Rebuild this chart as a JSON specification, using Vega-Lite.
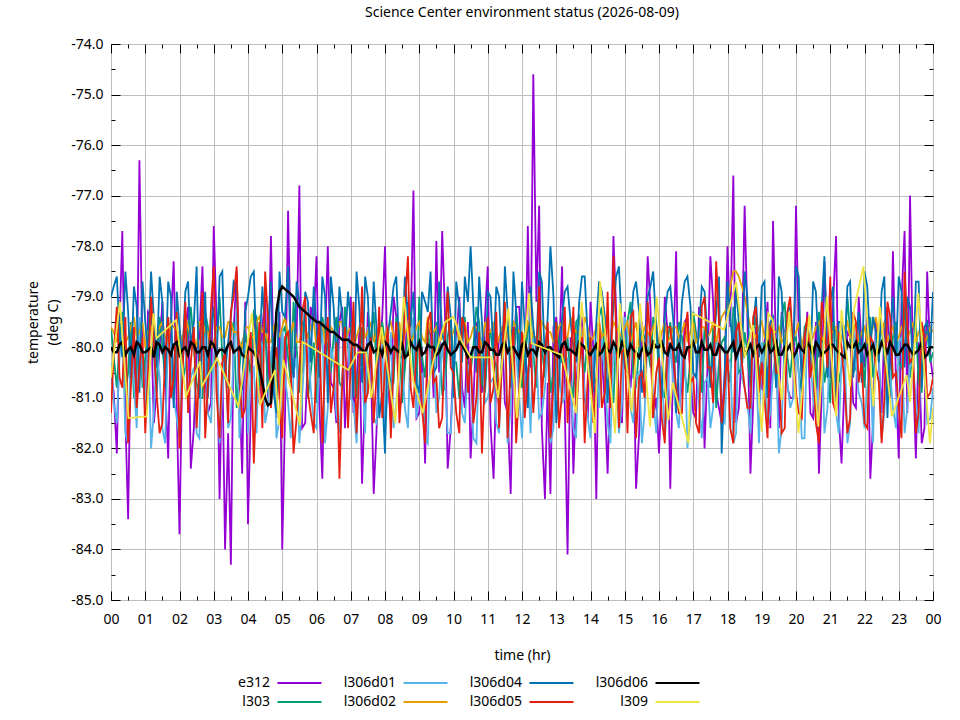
{
  "$schema": "https://vega.github.io/schema/vega-lite/v6.json",
  "autosize": {"type": "none"},
  "width": 822,
  "height": 556,
  "padding": {"left": 111, "top": 44, "right": 27, "bottom": 120},
  "background": "white",
  "title": {
    "text": "Science Center environment status (2026-08-09)",
    "fontSize": 14,
    "fontWeight": "normal",
    "anchor": "middle",
    "offset": 17,
    "color": "black"
  },
  "data": {
    "values": [
      {"t":0,"e312":-80.5,"l303":-79.6,"l306d01":-80.3,"l306d02":-79.6,"l306d04":-79.0,"l306d05":-81.3,"l306d06":-80.0},
      {"t":0.17,"e312":-82.1,"l303":-80.8,"l306d01":-81.5,"l306d02":-79.9,"l306d04":-78.6,"l306d05":-79.2,"l306d06":-80.1},
      {"t":0.33,"e312":-77.7,"l303":-79.3,"l306d01":-79.6,"l306d02":-79.5,"l306d04":-80.2,"l306d05":-80.8,"l306d06":-79.9},
      {"t":0.5,"e312":-83.4,"l303":-80.5,"l306d01":-81.9,"l306d02":-79.8,"l306d04":-79.3,"l306d05":-81.9,"l306d06":-80.05},
      {"t":0.67,"e312":-80.2,"l303":-81.0,"l306d01":-80.7,"l306d02":-79.4,"l306d04":-78.8,"l306d05":-79.6,"l306d06":-80.15},
      {"t":0.83,"e312":-76.3,"l303":-79.5,"l306d01":-79.4,"l306d02":-79.7,"l306d04":-80.9,"l306d05":-80.4,"l306d06":-79.95},
      {"t":1,"e312":-81.2,"l303":-80.2,"l306d01":-81.2,"l306d02":-80.0,"l306d04":-79.5,"l306d05":-81.7,"l306d06":-80.1},
      {"t":1.17,"e312":-79.4,"l303":-79.1,"l306d01":-82.0,"l306d02":-79.6,"l306d04":-78.5,"l306d05":-79.0,"l306d06":-80.0},
      {"t":1.33,"e312":-80.9,"l303":-80.9,"l306d01":-80.1,"l306d02":-79.8,"l306d04":-80.4,"l306d05":-80.9,"l306d06":-79.9},
      {"t":1.5,"e312":-79.1,"l303":-80.0,"l306d01":-81.6,"l306d02":-79.5,"l306d04":-79.1,"l306d05":-81.5,"l306d06":-80.1},
      {"t":1.67,"e312":-82.2,"l303":-79.4,"l306d01":-79.7,"l306d02":-79.9,"l306d04":-78.7,"l306d05":-79.4,"l306d06":-80.05},
      {"t":1.83,"e312":-78.3,"l303":-81.1,"l306d01":-81.0,"l306d02":-79.6,"l306d04":-81.2,"l306d05":-80.6,"l306d06":-79.95},
      {"t":2,"e312":-83.7,"l303":-79.8,"l306d01":-81.8,"l306d02":-79.7,"l306d04":-79.6,"l306d05":-82.0,"l306d06":-80.15},
      {"t":2.17,"e312":-79.6,"l303":-80.4,"l306d01":-79.9,"l306d02":-79.4,"l306d04":-78.9,"l306d05":-79.1,"l306d06":-80.0},
      {"t":2.33,"e312":-82.4,"l303":-79.2,"l306d01":-80.6,"l306d02":-79.8,"l306d04":-80.0,"l306d05":-80.3,"l306d06":-79.9},
      {"t":2.5,"e312":-80.0,"l303":-80.7,"l306d01":-81.7,"l306d02":-80.0,"l306d04":-78.4,"l306d05":-81.6,"l306d06":-80.1},
      {"t":2.67,"e312":-78.4,"l303":-81.0,"l306d01":-79.5,"l306d02":-79.5,"l306d04":-79.8,"l306d05":-78.9,"l306d06":-80.0},
      {"t":2.83,"e312":-81.3,"l303":-79.6,"l306d01":-81.3,"l306d02":-79.7,"l306d04":-81.0,"l306d05":-80.7,"l306d06":-80.15},
      {"t":3,"e312":-77.6,"l303":-80.3,"l306d01":-80.2,"l306d02":-79.9,"l306d04":-79.2,"l306d05":-78.4,"l306d06":-79.95},
      {"t":3.17,"e312":-83.0,"l303":-79.0,"l306d01":-81.9,"l306d02":-79.6,"l306d04":-78.6,"l306d05":-81.8,"l306d06":-80.05},
      {"t":3.33,"e312":-84.0,"l303":-80.6,"l306d01":-80.0,"l306d02":-79.8,"l306d04":-80.5,"l306d05":-80.1,"l306d06":-80.1},
      {"t":3.5,"e312":-84.3,"l303":-79.7,"l306d01":-81.4,"l306d02":-79.5,"l306d04":-79.4,"l306d05":-79.3,"l306d06":-79.9},
      {"t":3.67,"e312":-78.5,"l303":-81.2,"l306d01":-79.3,"l306d02":-79.7,"l306d04":-78.8,"l306d05":-78.4,"l306d06":-80.05},
      {"t":3.83,"e312":-82.5,"l303":-79.9,"l306d01":-80.8,"l306d02":-80.0,"l306d04":-80.8,"l306d05":-81.4,"l306d06":-80.15},
      {"t":4,"e312":-83.5,"l303":-80.1,"l306d01":-81.7,"l306d02":-79.6,"l306d04":-79.0,"l306d05":-80.2,"l306d06":-80.0},
      {"t":4.17,"e312":-79.3,"l303":-79.3,"l306d01":-80.4,"l306d02":-79.8,"l306d04":-78.5,"l306d05":-82.3,"l306d06":-80.1},
      {"t":4.33,"e312":-81.1,"l303":-80.8,"l306d01":-79.8,"l306d02":-79.4,"l306d04":-80.1,"l306d05":-79.5,"l306d06":-80.4},
      {"t":4.5,"e312":-79.0,"l303":-79.5,"l306d01":-81.5,"l306d02":-79.7,"l306d04":-79.7,"l306d05":-78.5,"l306d06":-81.0},
      {"t":4.67,"e312":-77.8,"l303":-80.4,"l306d01":-80.1,"l306d02":-79.9,"l306d04":-78.7,"l306d05":-81.2,"l306d06":-81.1},
      {"t":4.83,"e312":-81.4,"l303":-81.0,"l306d01":-81.8,"l306d02":-79.5,"l306d04":-81.3,"l306d05":-80.0,"l306d06":-79.3},
      {"t":5,"e312":-84.0,"l303":-79.7,"l306d01":-79.6,"l306d02":-79.6,"l306d04":-79.3,"l306d05":-81.8,"l306d06":-78.8},
      {"t":5.17,"e312":-77.3,"l303":-80.2,"l306d01":-81.1,"l306d02":-79.8,"l306d04":-78.4,"l306d05":-79.7,"l306d06":-78.9},
      {"t":5.33,"e312":-80.6,"l303":-79.1,"l306d01":-80.5,"l306d02":-79.5,"l306d04":-80.6,"l306d05":-82.1,"l306d06":-79.0},
      {"t":5.5,"e312":-76.8,"l303":-80.9,"l306d01":-81.9,"l306d02":-79.9,"l306d04":-79.1,"l306d05":-80.5,"l306d06":-79.2},
      {"t":5.67,"e312":-81.5,"l303":-79.6,"l306d01":-79.9,"l306d02":-79.7,"l306d04":-78.9,"l306d05":-79.0,"l306d06":-79.3},
      {"t":5.83,"e312":-79.2,"l303":-80.5,"l306d01":-80.8,"l306d02":-79.6,"l306d04":-80.3,"l306d05":-81.3,"l306d06":-79.4},
      {"t":6,"e312":-78.2,"l303":-81.1,"l306d01":-81.6,"l306d02":-80.0,"l306d04":-79.6,"l306d05":-80.2,"l306d06":-79.5},
      {"t":6.17,"e312":-82.6,"l303":-79.4,"l306d01":-79.5,"l306d02":-79.5,"l306d04":-78.6,"l306d05":-81.9,"l306d06":-79.55},
      {"t":6.33,"e312":-78.0,"l303":-80.0,"l306d01":-81.2,"l306d02":-79.8,"l306d04":-81.1,"l306d05":-79.4,"l306d06":-79.65},
      {"t":6.5,"e312":-80.8,"l303":-79.8,"l306d01":-80.3,"l306d02":-79.7,"l306d04":-79.2,"l306d05":-80.8,"l306d06":-79.7},
      {"t":6.67,"e312":-79.5,"l303":-80.7,"l306d01":-81.7,"l306d02":-79.5,"l306d04":-78.8,"l306d05":-82.6,"l306d06":-79.8},
      {"t":6.83,"e312":-81.6,"l303":-79.2,"l306d01":-79.8,"l306d02":-79.9,"l306d04":-80.0,"l306d05":-79.6,"l306d06":-79.85},
      {"t":7,"e312":-79.0,"l303":-80.3,"l306d01":-81.0,"l306d02":-79.6,"l306d04":-79.5,"l306d05":-80.3,"l306d06":-79.9},
      {"t":7.17,"e312":-80.7,"l303":-81.0,"l306d01":-81.9,"l306d02":-79.8,"l306d04":-78.5,"l306d05":-81.7,"l306d06":-79.95},
      {"t":7.33,"e312":-82.7,"l303":-79.6,"l306d01":-80.4,"l306d02":-79.4,"l306d04":-80.7,"l306d05":-78.8,"l306d06":-80.05},
      {"t":7.5,"e312":-79.3,"l303":-80.6,"l306d01":-79.6,"l306d02":-79.7,"l306d04":-79.0,"l306d05":-80.9,"l306d06":-79.95},
      {"t":7.67,"e312":-82.9,"l303":-79.3,"l306d01":-81.4,"l306d02":-79.9,"l306d04":-78.7,"l306d05":-81.5,"l306d06":-80.1},
      {"t":7.83,"e312":-80.1,"l303":-80.1,"l306d01":-80.7,"l306d02":-79.6,"l306d04":-81.4,"l306d05":-79.2,"l306d06":-80.0},
      {"t":8,"e312":-78.0,"l303":-79.9,"l306d01":-81.8,"l306d02":-79.8,"l306d04":-82.1,"l306d05":-80.4,"l306d06":-79.9},
      {"t":8.17,"e312":-81.5,"l303":-80.8,"l306d01":-79.7,"l306d02":-79.5,"l306d04":-79.3,"l306d05":-81.8,"l306d06":-80.1},
      {"t":8.33,"e312":-79.4,"l303":-79.4,"l306d01":-81.1,"l306d02":-79.7,"l306d04":-78.6,"l306d05":-79.5,"l306d06":-80.05},
      {"t":8.5,"e312":-81.0,"l303":-81.1,"l306d01":-80.2,"l306d02":-80.0,"l306d04":-80.2,"l306d05":-80.7,"l306d06":-79.95},
      {"t":8.67,"e312":-79.1,"l303":-79.7,"l306d01":-81.6,"l306d02":-79.6,"l306d04":-79.4,"l306d05":-78.2,"l306d06":-80.15},
      {"t":8.83,"e312":-76.9,"l303":-80.4,"l306d01":-79.4,"l306d02":-79.8,"l306d04":-78.9,"l306d05":-81.2,"l306d06":-80.0},
      {"t":9,"e312":-81.3,"l303":-79.0,"l306d01":-80.9,"l306d02":-79.5,"l306d04":-80.9,"l306d05":-80.0,"l306d06":-79.9},
      {"t":9.17,"e312":-82.3,"l303":-80.6,"l306d01":-81.8,"l306d02":-79.9,"l306d04":-79.1,"l306d05":-81.9,"l306d06":-80.1},
      {"t":9.33,"e312":-79.6,"l303":-80.2,"l306d01":-80.0,"l306d02":-79.7,"l306d04":-78.5,"l306d05":-79.3,"l306d06":-80.0},
      {"t":9.5,"e312":-77.9,"l303":-79.5,"l306d01":-81.3,"l306d02":-79.6,"l306d04":-80.4,"l306d05":-80.6,"l306d06":-80.15},
      {"t":9.67,"e312":-77.7,"l303":-80.9,"l306d01":-79.9,"l306d02":-79.8,"l306d04":-79.7,"l306d05":-81.4,"l306d06":-79.95},
      {"t":9.83,"e312":-82.4,"l303":-79.8,"l306d01":-81.7,"l306d02":-79.4,"l306d04":-78.8,"l306d05":-78.9,"l306d06":-80.05},
      {"t":10,"e312":-80.3,"l303":-80.3,"l306d01":-80.5,"l306d02":-79.7,"l306d04":-81.0,"l306d05":-80.5,"l306d06":-80.1},
      {"t":10.17,"e312":-79.0,"l303":-81.0,"l306d01":-79.6,"l306d02":-79.9,"l306d04":-79.2,"l306d05":-81.7,"l306d06":-79.9},
      {"t":10.33,"e312":-81.2,"l303":-79.4,"l306d01":-81.5,"l306d02":-79.5,"l306d04":-78.6,"l306d05":-79.6,"l306d06":-80.05},
      {"t":10.5,"e312":-82.2,"l303":-80.5,"l306d01":-80.3,"l306d02":-79.8,"l306d04":-78.0,"l306d05":-80.2,"l306d06":-80.15},
      {"t":10.67,"e312":-79.5,"l303":-79.2,"l306d01":-81.9,"l306d02":-79.6,"l306d04":-80.5,"l306d05":-81.0,"l306d06":-80.0},
      {"t":10.83,"e312":-80.9,"l303":-80.7,"l306d01":-79.8,"l306d02":-80.0,"l306d04":-79.5,"l306d05":-82.1,"l306d06":-80.1},
      {"t":11,"e312":-78.4,"l303":-79.9,"l306d01":-81.0,"l306d02":-79.7,"l306d04":-78.9,"l306d05":-79.4,"l306d06":-79.95},
      {"t":11.17,"e312":-82.6,"l303":-80.2,"l306d01":-80.6,"l306d02":-79.5,"l306d04":-80.1,"l306d05":-80.8,"l306d06":-80.05},
      {"t":11.33,"e312":-79.8,"l303":-81.2,"l306d01":-81.7,"l306d02":-79.8,"l306d04":-79.0,"l306d05":-81.6,"l306d06":-80.15},
      {"t":11.5,"e312":-81.1,"l303":-79.6,"l306d01":-79.5,"l306d02":-79.6,"l306d04":-78.4,"l306d05":-79.1,"l306d06":-79.9},
      {"t":11.67,"e312":-82.9,"l303":-80.4,"l306d01":-81.2,"l306d02":-79.9,"l306d04":-80.8,"l306d05":-80.3,"l306d06":-80.0},
      {"t":11.83,"e312":-79.2,"l303":-79.3,"l306d01":-80.1,"l306d02":-79.6,"l306d04":-79.3,"l306d05":-81.9,"l306d06":-80.1},
      {"t":12,"e312":-80.6,"l303":-80.8,"l306d01":-81.8,"l306d02":-79.7,"l306d04":-78.7,"l306d05":-79.7,"l306d06":-79.95},
      {"t":12.17,"e312":-77.6,"l303":-79.7,"l306d01":-80.4,"l306d02":-79.5,"l306d04":-81.2,"l306d05":-80.6,"l306d06":-80.15},
      {"t":12.33,"e312":-74.6,"l303":-80.1,"l306d01":-79.7,"l306d02":-79.8,"l306d04":-79.6,"l306d05":-81.3,"l306d06":-80.05},
      {"t":12.5,"e312":-77.2,"l303":-79.0,"l306d01":-81.4,"l306d02":-80.0,"l306d04":-78.5,"l306d05":-78.8,"l306d06":-79.9},
      {"t":12.67,"e312":-83.0,"l303":-80.6,"l306d01":-80.8,"l306d02":-79.6,"l306d04":-80.3,"l306d05":-80.1,"l306d06":-80.1},
      {"t":12.83,"e312":-82.9,"l303":-80.9,"l306d01":-81.9,"l306d02":-79.7,"l306d04":-78.0,"l306d05":-81.8,"l306d06":-80.0},
      {"t":13,"e312":-79.4,"l303":-79.5,"l306d01":-79.9,"l306d02":-79.9,"l306d04":-81.5,"l306d05":-79.5,"l306d06":-80.15},
      {"t":13.17,"e312":-78.4,"l303":-80.3,"l306d01":-81.1,"l306d02":-79.5,"l306d04":-79.4,"l306d05":-80.9,"l306d06":-79.95},
      {"t":13.33,"e312":-84.1,"l303":-79.8,"l306d01":-80.2,"l306d02":-79.8,"l306d04":-78.8,"l306d05":-81.5,"l306d06":-80.05},
      {"t":13.5,"e312":-82.5,"l303":-81.0,"l306d01":-81.6,"l306d02":-79.6,"l306d04":-80.0,"l306d05":-79.2,"l306d06":-80.1},
      {"t":13.67,"e312":-79.7,"l303":-79.4,"l306d01":-79.6,"l306d02":-79.7,"l306d04":-79.1,"l306d05":-80.4,"l306d06":-79.9},
      {"t":13.83,"e312":-81.0,"l303":-80.5,"l306d01":-80.9,"l306d02":-79.4,"l306d04":-78.6,"l306d05":-81.9,"l306d06":-80.0},
      {"t":14,"e312":-79.1,"l303":-79.9,"l306d01":-81.8,"l306d02":-79.9,"l306d04":-80.6,"l306d05":-79.8,"l306d06":-80.15},
      {"t":14.17,"e312":-83.0,"l303":-80.7,"l306d01":-80.3,"l306d02":-79.6,"l306d04":-79.5,"l306d05":-80.7,"l306d06":-79.95},
      {"t":14.33,"e312":-80.2,"l303":-79.2,"l306d01":-79.8,"l306d02":-79.8,"l306d04":-78.9,"l306d05":-81.2,"l306d06":-80.1},
      {"t":14.5,"e312":-82.5,"l303":-80.2,"l306d01":-81.5,"l306d02":-80.0,"l306d04":-81.1,"l306d05":-78.9,"l306d06":-80.05},
      {"t":14.67,"e312":-77.8,"l303":-81.1,"l306d01":-80.0,"l306d02":-79.5,"l306d04":-79.2,"l306d05":-78.2,"l306d06":-79.9},
      {"t":14.83,"e312":-81.2,"l303":-79.6,"l306d01":-81.7,"l306d02":-79.7,"l306d04":-78.4,"l306d05":-81.6,"l306d06":-80.15},
      {"t":15,"e312":-79.3,"l303":-80.4,"l306d01":-79.4,"l306d02":-79.6,"l306d04":-80.4,"l306d05":-80.0,"l306d06":-80.0},
      {"t":15.17,"e312":-80.8,"l303":-79.1,"l306d01":-81.2,"l306d02":-79.9,"l306d04":-79.7,"l306d05":-79.4,"l306d06":-79.95},
      {"t":15.33,"e312":-82.8,"l303":-80.8,"l306d01":-80.6,"l306d02":-79.5,"l306d04":-78.7,"l306d05":-81.8,"l306d06":-80.1},
      {"t":15.5,"e312":-79.5,"l303":-79.7,"l306d01":-81.9,"l306d02":-79.8,"l306d04":-80.9,"l306d05":-80.5,"l306d06":-80.05},
      {"t":15.67,"e312":-78.2,"l303":-80.0,"l306d01":-79.7,"l306d02":-79.7,"l306d04":-79.0,"l306d05":-79.1,"l306d06":-80.15},
      {"t":15.83,"e312":-81.4,"l303":-79.4,"l306d01":-81.0,"l306d02":-79.6,"l306d04":-78.5,"l306d05":-81.4,"l306d06":-79.9},
      {"t":16,"e312":-82.1,"l303":-80.6,"l306d01":-80.4,"l306d02":-80.0,"l306d04":-80.2,"l306d05":-80.2,"l306d06":-80.0},
      {"t":16.17,"e312":-79.0,"l303":-81.0,"l306d01":-81.8,"l306d02":-79.5,"l306d04":-79.4,"l306d05":-81.9,"l306d06":-80.1},
      {"t":16.33,"e312":-82.8,"l303":-79.5,"l306d01":-79.9,"l306d02":-79.8,"l306d04":-78.8,"l306d05":-79.6,"l306d06":-79.95},
      {"t":16.5,"e312":-78.1,"l303":-80.3,"l306d01":-81.3,"l306d02":-79.6,"l306d04":-81.3,"l306d05":-80.8,"l306d06":-80.05},
      {"t":16.67,"e312":-80.7,"l303":-79.8,"l306d01":-80.1,"l306d02":-79.7,"l306d04":-79.1,"l306d05":-81.3,"l306d06":-80.15},
      {"t":16.83,"e312":-79.4,"l303":-80.9,"l306d01":-82.0,"l306d02":-79.9,"l306d04":-78.6,"l306d05":-79.3,"l306d06":-80.0},
      {"t":17,"e312":-81.3,"l303":-79.3,"l306d01":-79.6,"l306d02":-79.5,"l306d04":-80.5,"l306d05":-80.6,"l306d06":-79.9},
      {"t":17.17,"e312":-79.2,"l303":-80.1,"l306d01":-81.1,"l306d02":-79.8,"l306d04":-79.6,"l306d05":-81.7,"l306d06":-80.1},
      {"t":17.33,"e312":-82.0,"l303":-79.6,"l306d01":-80.7,"l306d02":-79.6,"l306d04":-78.9,"l306d05":-79.0,"l306d06":-80.05},
      {"t":17.5,"e312":-78.2,"l303":-80.7,"l306d01":-81.6,"l306d02":-79.7,"l306d04":-80.8,"l306d05":-80.4,"l306d06":-79.95},
      {"t":17.67,"e312":-80.9,"l303":-81.2,"l306d01":-79.8,"l306d02":-79.9,"l306d04":-79.3,"l306d05":-78.3,"l306d06":-80.15},
      {"t":17.83,"e312":-81.5,"l303":-79.9,"l306d01":-81.4,"l306d02":-79.4,"l306d04":-82.1,"l306d05":-81.5,"l306d06":-80.0},
      {"t":18,"e312":-78.0,"l303":-80.4,"l306d01":-80.2,"l306d02":-79.2,"l306d04":-78.7,"l306d05":-80.1,"l306d06":-80.1},
      {"t":18.17,"e312":-76.6,"l303":-79.2,"l306d01":-81.9,"l306d02":-78.5,"l306d04":-80.1,"l306d05":-81.9,"l306d06":-79.9},
      {"t":18.33,"e312":-81.2,"l303":-80.5,"l306d01":-79.5,"l306d02":-78.6,"l306d04":-79.5,"l306d05":-79.5,"l306d06":-80.05},
      {"t":18.5,"e312":-77.2,"l303":-79.7,"l306d01":-80.8,"l306d02":-79.0,"l306d04":-78.5,"l306d05":-80.8,"l306d06":-80.15},
      {"t":18.67,"e312":-82.5,"l303":-80.8,"l306d01":-81.7,"l306d02":-79.6,"l306d04":-80.7,"l306d05":-81.2,"l306d06":-79.95},
      {"t":18.83,"e312":-79.6,"l303":-79.4,"l306d01":-80.3,"l306d02":-79.8,"l306d04":-79.0,"l306d05":-79.2,"l306d06":-80.0},
      {"t":19,"e312":-80.8,"l303":-80.2,"l306d01":-79.9,"l306d02":-79.5,"l306d04":-78.8,"l306d05":-80.3,"l306d06":-80.1},
      {"t":19.17,"e312":-79.1,"l303":-81.0,"l306d01":-81.5,"l306d02":-79.9,"l306d04":-81.0,"l306d05":-81.8,"l306d06":-79.9},
      {"t":19.33,"e312":-77.5,"l303":-79.6,"l306d01":-80.5,"l306d02":-79.7,"l306d04":-79.4,"l306d05":-79.7,"l306d06":-80.05},
      {"t":19.5,"e312":-81.6,"l303":-80.3,"l306d01":-82.1,"l306d02":-79.6,"l306d04":-78.6,"l306d05":-80.5,"l306d06":-80.15},
      {"t":19.67,"e312":-79.8,"l303":-79.1,"l306d01":-79.7,"l306d02":-79.8,"l306d04":-80.3,"l306d05":-81.6,"l306d06":-80.0},
      {"t":19.83,"e312":-81.0,"l303":-80.6,"l306d01":-81.2,"l306d02":-79.5,"l306d04":-79.2,"l306d05":-79.0,"l306d06":-79.95},
      {"t":20,"e312":-77.2,"l303":-79.8,"l306d01":-80.0,"l306d02":-79.7,"l306d04":-78.4,"l306d05":-80.9,"l306d06":-80.1},
      {"t":20.17,"e312":-80.5,"l303":-80.9,"l306d01":-81.8,"l306d02":-80.0,"l306d04":-80.9,"l306d05":-81.4,"l306d06":-80.05},
      {"t":20.33,"e312":-79.3,"l303":-79.5,"l306d01":-79.6,"l306d02":-79.6,"l306d04":-79.6,"l306d05":-79.4,"l306d06":-79.9},
      {"t":20.5,"e312":-81.4,"l303":-80.0,"l306d01":-81.0,"l306d02":-79.8,"l306d04":-78.7,"l306d05":-80.2,"l306d06":-80.15},
      {"t":20.67,"e312":-82.5,"l303":-79.3,"l306d01":-80.6,"l306d02":-79.5,"l306d04":-80.2,"l306d05":-81.9,"l306d06":-80.0},
      {"t":20.83,"e312":-78.3,"l303":-80.7,"l306d01":-81.7,"l306d02":-79.9,"l306d04":-78.2,"l306d05":-79.6,"l306d06":-80.1},
      {"t":21,"e312":-80.6,"l303":-81.1,"l306d01":-79.8,"l306d02":-79.7,"l306d04":-79.1,"l306d05":-78.6,"l306d06":-79.95},
      {"t":21.17,"e312":-77.8,"l303":-79.7,"l306d01":-81.3,"l306d02":-79.6,"l306d04":-81.2,"l306d05":-81.3,"l306d06":-80.05},
      {"t":21.33,"e312":-82.3,"l303":-80.4,"l306d01":-80.2,"l306d02":-79.8,"l306d04":-79.5,"l306d05":-80.0,"l306d06":-80.15},
      {"t":21.5,"e312":-79.7,"l303":-79.0,"l306d01":-81.9,"l306d02":-79.5,"l306d04":-78.8,"l306d05":-81.7,"l306d06":-79.9},
      {"t":21.67,"e312":-81.1,"l303":-80.5,"l306d01":-79.5,"l306d02":-79.7,"l306d04":-80.6,"l306d05":-79.3,"l306d06":-80.0},
      {"t":21.83,"e312":-79.0,"l303":-79.9,"l306d01":-80.9,"l306d02":-79.9,"l306d04":-79.3,"l306d05":-80.7,"l306d06":-80.1},
      {"t":22,"e312":-80.4,"l303":-80.8,"l306d01":-81.6,"l306d02":-79.6,"l306d04":-78.5,"l306d05":-81.5,"l306d06":-79.95},
      {"t":22.17,"e312":-82.6,"l303":-79.4,"l306d01":-80.4,"l306d02":-79.8,"l306d04":-80.0,"l306d05":-79.8,"l306d06":-80.05},
      {"t":22.33,"e312":-79.5,"l303":-80.2,"l306d01":-79.7,"l306d02":-79.4,"l306d04":-79.7,"l306d05":-80.4,"l306d06":-80.15},
      {"t":22.5,"e312":-81.3,"l303":-79.6,"l306d01":-81.8,"l306d02":-79.7,"l306d04":-78.9,"l306d05":-81.9,"l306d06":-79.9},
      {"t":22.67,"e312":-79.2,"l303":-81.0,"l306d01":-80.1,"l306d02":-79.9,"l306d04":-81.4,"l306d05":-79.1,"l306d06":-80.1},
      {"t":22.83,"e312":-78.1,"l303":-79.8,"l306d01":-81.2,"l306d02":-79.6,"l306d04":-79.0,"l306d05":-80.6,"l306d06":-80.0},
      {"t":23,"e312":-82.2,"l303":-80.3,"l306d01":-79.9,"l306d02":-79.8,"l306d04":-78.6,"l306d05":-81.2,"l306d06":-80.15},
      {"t":23.17,"e312":-77.7,"l303":-79.2,"l306d01":-81.7,"l306d02":-79.5,"l306d04":-80.4,"l306d05":-78.5,"l306d06":-79.95},
      {"t":23.33,"e312":-77.0,"l303":-80.6,"l306d01":-80.3,"l306d02":-79.7,"l306d04":-79.2,"l306d05":-80.3,"l306d06":-80.05},
      {"t":23.5,"e312":-82.2,"l303":-79.5,"l306d01":-81.0,"l306d02":-79.9,"l306d04":-78.7,"l306d05":-81.7,"l306d06":-80.1},
      {"t":23.67,"e312":-81.9,"l303":-80.9,"l306d01":-79.6,"l306d02":-79.6,"l306d04":-80.8,"l306d05":-79.5,"l306d06":-79.9},
      {"t":23.83,"e312":-78.5,"l303":-79.7,"l306d01":-81.5,"l306d02":-79.8,"l306d04":-79.5,"l306d05":-81.0,"l306d06":-80.15},
      {"t":24,"e312":-80.6,"l303":-80.1,"l306d01":-80.8,"l306d02":-79.7,"l306d04":-78.9,"l306d05":-80.6,"l306d06":-80.0},
      {"t":0.08,"e312":-80.9,"l303":-80.2,"l306d01":-81.1,"l306d02":-79.7,"l306d04":-78.8,"l306d05":-80.1,"l306d06":-80.1},
      {"t":0.25,"e312":-79.6,"l303":-79.9,"l306d01":-80.2,"l306d02":-79.5,"l306d04":-79.7,"l306d05":-80.6,"l306d06":-79.95},
      {"t":0.42,"e312":-81.4,"l303":-80.9,"l306d01":-81.7,"l306d02":-79.9,"l306d04":-78.5,"l306d05":-79.4,"l306d06":-80.15},
      {"t":0.58,"e312":-79.9,"l303":-79.5,"l306d01":-80.0,"l306d02":-79.6,"l306d04":-80.6,"l306d05":-80.8,"l306d06":-80.0},
      {"t":0.75,"e312":-81.0,"l303":-80.4,"l306d01":-81.6,"l306d02":-79.8,"l306d04":-79.2,"l306d05":-81.2,"l306d06":-79.9},
      {"t":0.92,"e312":-80.2,"l303":-80.8,"l306d01":-80.5,"l306d02":-79.5,"l306d04":-78.7,"l306d05":-79.8,"l306d06":-80.1},
      {"t":1.08,"e312":-79.3,"l303":-79.7,"l306d01":-79.8,"l306d02":-79.7,"l306d04":-80.1,"l306d05":-80.5,"l306d06":-80.05},
      {"t":1.25,"e312":-81.5,"l303":-80.1,"l306d01":-81.3,"l306d02":-79.9,"l306d04":-79.4,"l306d05":-79.9,"l306d06":-80.2},
      {"t":1.42,"e312":-80.0,"l303":-79.4,"l306d01":-80.6,"l306d02":-79.6,"l306d04":-78.6,"l306d05":-81.7,"l306d06":-79.95},
      {"t":1.58,"e312":-80.7,"l303":-80.6,"l306d01":-81.9,"l306d02":-79.8,"l306d04":-80.8,"l306d05":-80.2,"l306d06":-80.0},
      {"t":1.75,"e312":-79.5,"l303":-80.3,"l306d01":-80.1,"l306d02":-79.5,"l306d04":-79.0,"l306d05":-81.0,"l306d06":-80.15},
      {"t":1.92,"e312":-81.2,"l303":-79.8,"l306d01":-81.4,"l306d02":-79.7,"l306d04":-78.9,"l306d05":-79.3,"l306d06":-79.9},
      {"t":2.08,"e312":-80.4,"l303":-80.7,"l306d01":-79.8,"l306d02":-79.9,"l306d04":-80.3,"l306d05":-80.7,"l306d06":-80.05},
      {"t":2.25,"e312":-79.2,"l303":-79.6,"l306d01":-81.2,"l306d02":-79.6,"l306d04":-78.7,"l306d05":-81.3,"l306d06":-80.15},
      {"t":2.42,"e312":-81.6,"l303":-80.0,"l306d01":-80.4,"l306d02":-79.8,"l306d04":-79.5,"l306d05":-79.6,"l306d06":-79.95},
      {"t":2.58,"e312":-79.8,"l303":-81.0,"l306d01":-81.8,"l306d02":-79.5,"l306d04":-81.0,"l306d05":-80.4,"l306d06":-80.1},
      {"t":2.75,"e312":-80.6,"l303":-79.3,"l306d01":-80.1,"l306d02":-79.7,"l306d04":-78.9,"l306d05":-81.8,"l306d06":-80.0},
      {"t":2.92,"e312":-81.1,"l303":-80.5,"l306d01":-81.5,"l306d02":-80.0,"l306d04":-79.6,"l306d05":-79.2,"l306d06":-79.9},
      {"t":3.08,"e312":-79.4,"l303":-79.9,"l306d01":-79.7,"l306d02":-79.6,"l306d04":-80.4,"l306d05":-80.9,"l306d06":-80.15},
      {"t":3.25,"e312":-80.3,"l303":-80.2,"l306d01":-80.9,"l306d02":-79.8,"l306d04":-78.5,"l306d05":-80.3,"l306d06":-80.05},
      {"t":3.42,"e312":-81.7,"l303":-80.8,"l306d01":-81.6,"l306d02":-79.5,"l306d04":-79.9,"l306d05":-81.5,"l306d06":-79.95},
      {"t":3.58,"e312":-79.7,"l303":-79.5,"l306d01":-80.2,"l306d02":-79.7,"l306d04":-78.7,"l306d05":-79.0,"l306d06":-80.1},
      {"t":3.75,"e312":-80.8,"l303":-80.4,"l306d01":-81.8,"l306d02":-79.9,"l306d04":-80.7,"l306d05":-80.6,"l306d06":-80.0},
      {"t":3.92,"e312":-79.1,"l303":-79.7,"l306d01":-79.9,"l306d02":-79.6,"l306d04":-79.3,"l306d05":-81.2,"l306d06":-80.2},
      {"t":4.08,"e312":-81.3,"l303":-80.6,"l306d01":-80.5,"l306d02":-79.8,"l306d04":-78.6,"l306d05":-79.7,"l306d06":-80.05},
      {"t":4.25,"e312":-80.1,"l303":-79.4,"l306d01":-81.7,"l306d02":-79.5,"l306d04":-80.2,"l306d05":-80.8,"l306d06":-80.2},
      {"t":4.42,"e312":-79.6,"l303":-80.1,"l306d01":-80.0,"l306d02":-79.7,"l306d04":-78.8,"l306d05":-81.6,"l306d06":-80.7},
      {"t":4.58,"e312":-81.0,"l303":-80.9,"l306d01":-81.2,"l306d02":-79.9,"l306d04":-79.7,"l306d05":-79.4,"l306d06":-81.15},
      {"t":4.75,"e312":-80.5,"l303":-79.8,"l306d01":-79.9,"l306d02":-79.6,"l306d04":-80.9,"l306d05":-80.3,"l306d06":-80.3},
      {"t":4.92,"e312":-79.3,"l303":-80.3,"l306d01":-81.4,"l306d02":-79.8,"l306d04":-78.5,"l306d05":-81.0,"l306d06":-78.9},
      {"t":5.08,"e312":-81.4,"l303":-79.6,"l306d01":-80.6,"l306d02":-79.4,"l306d04":-79.4,"l306d05":-79.8,"l306d06":-78.85},
      {"t":5.25,"e312":-80.0,"l303":-80.7,"l306d01":-81.8,"l306d02":-79.7,"l306d04":-80.1,"l306d05":-80.5,"l306d06":-78.95},
      {"t":5.42,"e312":-79.8,"l303":-80.0,"l306d01":-80.2,"l306d02":-79.9,"l306d04":-78.7,"l306d05":-81.4,"l306d06":-79.1},
      {"t":5.58,"e312":-81.6,"l303":-79.5,"l306d01":-81.0,"l306d02":-79.6,"l306d04":-80.5,"l306d05":-79.3,"l306d06":-79.25},
      {"t":5.75,"e312":-80.2,"l303":-81.0,"l306d01":-79.7,"l306d02":-79.8,"l306d04":-79.1,"l306d05":-80.9,"l306d06":-79.35},
      {"t":5.92,"e312":-79.5,"l303":-79.9,"l306d01":-81.5,"l306d02":-79.5,"l306d04":-78.8,"l306d05":-81.7,"l306d06":-79.45},
      {"t":6.08,"e312":-81.1,"l303":-80.2,"l306d01":-80.3,"l306d02":-79.7,"l306d04":-80.6,"l306d05":-79.5,"l306d06":-79.5},
      {"t":6.25,"e312":-79.9,"l303":-79.7,"l306d01":-81.9,"l306d02":-79.9,"l306d04":-79.0,"l306d05":-80.2,"l306d06":-79.6},
      {"t":6.42,"e312":-80.7,"l303":-80.5,"l306d01":-80.0,"l306d02":-79.6,"l306d04":-78.6,"l306d05":-81.3,"l306d06":-79.7},
      {"t":6.58,"e312":-81.5,"l303":-79.4,"l306d01":-81.3,"l306d02":-79.8,"l306d04":-80.3,"l306d05":-79.9,"l306d06":-79.75},
      {"t":6.75,"e312":-79.2,"l303":-80.8,"l306d01":-80.6,"l306d02":-79.5,"l306d04":-79.4,"l306d05":-80.7,"l306d06":-79.85},
      {"t":6.92,"e312":-80.4,"l303":-80.0,"l306d01":-79.8,"l306d02":-79.7,"l306d04":-78.9,"l306d05":-81.6,"l306d06":-79.85},
      {"t":7.08,"e312":-81.3,"l303":-79.6,"l306d01":-81.1,"l306d02":-80.0,"l306d04":-81.0,"l306d05":-79.1,"l306d06":-79.95},
      {"t":7.25,"e312":-79.7,"l303":-80.3,"l306d01":-80.4,"l306d02":-79.6,"l306d04":-79.2,"l306d05":-80.4,"l306d06":-80.0},
      {"t":7.42,"e312":-80.9,"l303":-81.0,"l306d01":-81.7,"l306d02":-79.8,"l306d04":-78.6,"l306d05":-81.1,"l306d06":-80.1},
      {"t":7.58,"e312":-80.1,"l303":-79.8,"l306d01":-80.1,"l306d02":-79.5,"l306d04":-80.4,"l306d05":-79.8,"l306d06":-79.9},
      {"t":7.75,"e312":-81.7,"l303":-80.4,"l306d01":-81.5,"l306d02":-79.7,"l306d04":-79.6,"l306d05":-80.6,"l306d06":-80.05},
      {"t":7.92,"e312":-79.4,"l303":-79.5,"l306d01":-79.9,"l306d02":-79.9,"l306d04":-80.9,"l306d05":-81.4,"l306d06":-80.15},
      {"t":8.08,"e312":-80.6,"l303":-80.1,"l306d01":-80.8,"l306d02":-79.6,"l306d04":-79.8,"l306d05":-79.6,"l306d06":-79.95},
      {"t":8.25,"e312":-79.0,"l303":-80.7,"l306d01":-81.6,"l306d02":-79.8,"l306d04":-78.8,"l306d05":-80.3,"l306d06":-80.0},
      {"t":8.42,"e312":-81.2,"l303":-79.7,"l306d01":-80.3,"l306d02":-79.5,"l306d04":-80.2,"l306d05":-81.5,"l306d06":-80.1},
      {"t":8.58,"e312":-80.3,"l303":-80.4,"l306d01":-81.2,"l306d02":-79.7,"l306d04":-78.6,"l306d05":-79.2,"l306d06":-80.2},
      {"t":8.75,"e312":-79.6,"l303":-79.3,"l306d01":-79.8,"l306d02":-79.9,"l306d04":-79.5,"l306d05":-80.8,"l306d06":-79.9},
      {"t":8.92,"e312":-81.4,"l303":-80.9,"l306d01":-81.4,"l306d02":-79.6,"l306d04":-80.7,"l306d05":-80.0,"l306d06":-80.05},
      {"t":9.08,"e312":-80.0,"l303":-80.2,"l306d01":-80.5,"l306d02":-79.8,"l306d04":-78.9,"l306d05":-81.2,"l306d06":-80.15},
      {"t":9.25,"e312":-79.8,"l303":-79.6,"l306d01":-81.9,"l306d02":-79.4,"l306d04":-79.3,"l306d05":-79.5,"l306d06":-79.95},
      {"t":9.42,"e312":-81.0,"l303":-80.5,"l306d01":-80.1,"l306d02":-79.7,"l306d04":-80.5,"l306d05":-80.7,"l306d06":-80.0},
      {"t":9.58,"e312":-80.5,"l303":-79.9,"l306d01":-81.0,"l306d02":-79.9,"l306d04":-78.7,"l306d05":-81.6,"l306d06":-80.1},
      {"t":9.75,"e312":-79.3,"l303":-80.8,"l306d01":-80.6,"l306d02":-79.6,"l306d04":-80.0,"l306d05":-79.8,"l306d06":-79.9},
      {"t":9.92,"e312":-81.6,"l303":-79.4,"l306d01":-81.7,"l306d02":-79.8,"l306d04":-79.4,"l306d05":-80.4,"l306d06":-80.15},
      {"t":10.08,"e312":-79.9,"l303":-80.3,"l306d01":-79.9,"l306d02":-79.5,"l306d04":-78.7,"l306d05":-81.3,"l306d06":-80.05},
      {"t":10.25,"e312":-80.8,"l303":-79.8,"l306d01":-81.3,"l306d02":-79.7,"l306d04":-80.3,"l306d05":-79.4,"l306d06":-79.95},
      {"t":10.42,"e312":-79.5,"l303":-80.6,"l306d01":-80.4,"l306d02":-79.9,"l306d04":-79.1,"l306d05":-80.9,"l306d06":-80.2},
      {"t":10.58,"e312":-81.1,"l303":-80.0,"l306d01":-81.8,"l306d02":-79.6,"l306d04":-79.2,"l306d05":-81.5,"l306d06":-80.0},
      {"t":10.75,"e312":-80.2,"l303":-79.5,"l306d01":-80.0,"l306d02":-79.8,"l306d04":-78.6,"l306d05":-79.7,"l306d06":-80.1},
      {"t":10.92,"e312":-79.4,"l303":-80.9,"l306d01":-81.1,"l306d02":-79.5,"l306d04":-80.8,"l306d05":-80.5,"l306d06":-79.9},
      {"t":11.08,"e312":-81.5,"l303":-79.7,"l306d01":-80.7,"l306d02":-79.7,"l306d04":-79.0,"l306d05":-81.1,"l306d06":-80.05},
      {"t":11.25,"e312":-80.6,"l303":-80.4,"l306d01":-81.5,"l306d02":-80.0,"l306d04":-78.8,"l306d05":-79.3,"l306d06":-80.15},
      {"t":11.42,"e312":-79.7,"l303":-80.1,"l306d01":-80.2,"l306d02":-79.6,"l306d04":-80.4,"l306d05":-80.2,"l306d06":-79.95},
      {"t":11.58,"e312":-81.3,"l303":-79.6,"l306d01":-81.9,"l306d02":-79.8,"l306d04":-79.3,"l306d05":-81.8,"l306d06":-80.1},
      {"t":11.75,"e312":-80.1,"l303":-80.7,"l306d01":-79.8,"l306d02":-79.5,"l306d04":-78.5,"l306d05":-79.6,"l306d06":-80.0},
      {"t":11.92,"e312":-79.2,"l303":-79.9,"l306d01":-81.0,"l306d02":-79.7,"l306d04":-80.6,"l306d05":-80.8,"l306d06":-80.2},
      {"t":12.08,"e312":-81.0,"l303":-80.2,"l306d01":-80.6,"l306d02":-79.9,"l306d04":-79.6,"l306d05":-81.4,"l306d06":-79.9},
      {"t":12.25,"e312":-80.4,"l303":-79.4,"l306d01":-81.7,"l306d02":-79.6,"l306d04":-78.8,"l306d05":-79.9,"l306d06":-80.05},
      {"t":12.42,"e312":-79.1,"l303":-80.8,"l306d01":-80.1,"l306d02":-79.8,"l306d04":-80.1,"l306d05":-80.3,"l306d06":-80.15},
      {"t":12.58,"e312":-81.6,"l303":-80.0,"l306d01":-81.3,"l306d02":-79.5,"l306d04":-78.7,"l306d05":-81.0,"l306d06":-79.95},
      {"t":12.75,"e312":-80.7,"l303":-79.6,"l306d01":-79.9,"l306d02":-79.7,"l306d04":-79.4,"l306d05":-79.5,"l306d06":-80.0},
      {"t":12.92,"e312":-79.6,"l303":-80.5,"l306d01":-81.6,"l306d02":-79.9,"l306d04":-79.0,"l306d05":-80.7,"l306d06":-80.1},
      {"t":13.08,"e312":-80.3,"l303":-79.9,"l306d01":-80.4,"l306d02":-79.6,"l306d04":-80.7,"l306d05":-81.6,"l306d06":-80.2},
      {"t":13.25,"e312":-81.2,"l303":-80.3,"l306d01":-81.0,"l306d02":-79.8,"l306d04":-78.9,"l306d05":-79.2,"l306d06":-79.9},
      {"t":13.42,"e312":-79.8,"l303":-80.7,"l306d01":-80.7,"l306d02":-79.4,"l306d04":-79.5,"l306d05":-80.4,"l306d06":-80.05},
      {"t":13.58,"e312":-80.9,"l303":-79.5,"l306d01":-81.8,"l306d02":-79.7,"l306d04":-80.3,"l306d05":-81.3,"l306d06":-80.15},
      {"t":13.75,"e312":-79.4,"l303":-80.1,"l306d01":-80.2,"l306d02":-79.9,"l306d04":-78.6,"l306d05":-79.8,"l306d06":-79.95},
      {"t":13.92,"e312":-81.4,"l303":-79.8,"l306d01":-81.4,"l306d02":-79.6,"l306d04":-79.8,"l306d05":-80.6,"l306d06":-80.1},
      {"t":14.08,"e312":-80.0,"l303":-80.6,"l306d01":-80.0,"l306d02":-79.8,"l306d04":-80.9,"l306d05":-81.5,"l306d06":-80.05},
      {"t":14.25,"e312":-79.5,"l303":-79.4,"l306d01":-81.2,"l306d02":-79.5,"l306d04":-78.7,"l306d05":-79.4,"l306d06":-80.15},
      {"t":14.42,"e312":-81.1,"l303":-80.3,"l306d01":-80.6,"l306d02":-79.7,"l306d04":-79.4,"l306d05":-80.9,"l306d06":-79.95},
      {"t":14.58,"e312":-80.6,"l303":-80.9,"l306d01":-81.9,"l306d02":-79.9,"l306d04":-80.0,"l306d05":-81.2,"l306d06":-80.1},
      {"t":14.75,"e312":-79.3,"l303":-79.7,"l306d01":-80.3,"l306d02":-79.6,"l306d04":-78.6,"l306d05":-79.7,"l306d06":-80.0},
      {"t":14.92,"e312":-81.5,"l303":-80.2,"l306d01":-81.1,"l306d02":-79.8,"l306d04":-79.7,"l306d05":-80.1,"l306d06":-79.9},
      {"t":15.08,"e312":-80.2,"l303":-79.5,"l306d01":-79.7,"l306d02":-79.5,"l306d04":-80.5,"l306d05":-81.7,"l306d06":-80.15},
      {"t":15.25,"e312":-79.9,"l303":-80.6,"l306d01":-81.5,"l306d02":-79.7,"l306d04":-78.9,"l306d05":-79.3,"l306d06":-80.05},
      {"t":15.42,"e312":-81.7,"l303":-80.0,"l306d01":-80.5,"l306d02":-80.0,"l306d04":-79.3,"l306d05":-80.6,"l306d06":-80.2},
      {"t":15.58,"e312":-80.4,"l303":-79.8,"l306d01":-81.3,"l306d02":-79.6,"l306d04":-80.2,"l306d05":-81.0,"l306d06":-79.95},
      {"t":15.75,"e312":-79.2,"l303":-80.4,"l306d01":-80.1,"l306d02":-79.8,"l306d04":-78.8,"l306d05":-79.9,"l306d06":-80.1},
      {"t":15.92,"e312":-81.0,"l303":-79.6,"l306d01":-81.7,"l306d02":-79.5,"l306d04":-79.6,"l306d05":-80.5,"l306d06":-80.0},
      {"t":16.08,"e312":-80.8,"l303":-80.8,"l306d01":-80.4,"l306d02":-79.7,"l306d04":-81.0,"l306d05":-81.4,"l306d06":-79.9},
      {"t":16.25,"e312":-79.7,"l303":-79.9,"l306d01":-81.0,"l306d02":-79.9,"l306d04":-78.9,"l306d05":-79.6,"l306d06":-80.15},
      {"t":16.42,"e312":-80.1,"l303":-80.1,"l306d01":-80.8,"l306d02":-79.6,"l306d04":-79.5,"l306d05":-80.2,"l306d06":-80.05},
      {"t":16.58,"e312":-81.3,"l303":-79.5,"l306d01":-81.6,"l306d02":-79.8,"l306d04":-80.4,"l306d05":-81.3,"l306d06":-79.95},
      {"t":16.75,"e312":-79.5,"l303":-80.5,"l306d01":-79.9,"l306d02":-79.5,"l306d04":-78.7,"l306d05":-79.8,"l306d06":-80.2},
      {"t":16.92,"e312":-80.6,"l303":-80.2,"l306d01":-81.4,"l306d02":-79.7,"l306d04":-79.2,"l306d05":-80.7,"l306d06":-80.0},
      {"t":17.08,"e312":-81.4,"l303":-79.7,"l306d01":-80.2,"l306d02":-79.9,"l306d04":-80.6,"l306d05":-81.5,"l306d06":-80.1},
      {"t":17.25,"e312":-79.8,"l303":-80.9,"l306d01":-81.8,"l306d02":-79.6,"l306d04":-78.8,"l306d05":-79.2,"l306d06":-79.9},
      {"t":17.42,"e312":-80.3,"l303":-80.0,"l306d01":-80.6,"l306d02":-79.8,"l306d04":-79.8,"l306d05":-80.4,"l306d06":-80.05},
      {"t":17.58,"e312":-79.1,"l303":-79.6,"l306d01":-81.2,"l306d02":-79.5,"l306d04":-80.1,"l306d05":-81.1,"l306d06":-80.15},
      {"t":17.75,"e312":-81.2,"l303":-80.3,"l306d01":-80.0,"l306d02":-79.6,"l306d04":-78.6,"l306d05":-79.5,"l306d06":-79.95},
      {"t":17.92,"e312":-80.5,"l303":-79.8,"l306d01":-81.5,"l306d02":-79.3,"l306d04":-80.5,"l306d05":-80.8,"l306d06":-80.1},
      {"t":18.08,"e312":-79.6,"l303":-80.7,"l306d01":-80.3,"l306d02":-78.8,"l306d04":-79.4,"l306d05":-81.6,"l306d06":-80.0},
      {"t":18.25,"e312":-81.5,"l303":-79.5,"l306d01":-81.7,"l306d02":-78.5,"l306d04":-78.8,"l306d05":-79.7,"l306d06":-80.2},
      {"t":18.42,"e312":-80.0,"l303":-80.4,"l306d01":-80.6,"l306d02":-78.8,"l306d04":-80.3,"l306d05":-80.3,"l306d06":-79.9},
      {"t":18.58,"e312":-79.4,"l303":-80.1,"l306d01":-81.1,"l306d02":-79.3,"l306d04":-79.0,"l306d05":-81.2,"l306d06":-80.05},
      {"t":18.75,"e312":-81.1,"l303":-79.7,"l306d01":-79.8,"l306d02":-79.7,"l306d04":-79.6,"l306d05":-79.4,"l306d06":-80.15},
      {"t":18.92,"e312":-80.7,"l303":-80.6,"l306d01":-81.9,"l306d02":-79.6,"l306d04":-80.2,"l306d05":-80.9,"l306d06":-79.95},
      {"t":19.08,"e312":-79.9,"l303":-79.9,"l306d01":-80.4,"l306d02":-79.8,"l306d04":-78.7,"l306d05":-81.0,"l306d06":-80.0},
      {"t":19.25,"e312":-81.6,"l303":-80.3,"l306d01":-81.3,"l306d02":-79.5,"l306d04":-79.5,"l306d05":-79.6,"l306d06":-80.1},
      {"t":19.42,"e312":-80.2,"l303":-80.8,"l306d01":-80.1,"l306d02":-79.7,"l306d04":-80.8,"l306d05":-80.5,"l306d06":-79.9},
      {"t":19.58,"e312":-79.3,"l303":-79.4,"l306d01":-81.6,"l306d02":-79.9,"l306d04":-78.9,"l306d05":-81.7,"l306d06":-80.15},
      {"t":19.75,"e312":-80.8,"l303":-80.2,"l306d01":-80.7,"l306d02":-79.6,"l306d04":-79.3,"l306d05":-79.3,"l306d06":-80.05},
      {"t":19.92,"e312":-81.0,"l303":-79.9,"l306d01":-81.0,"l306d02":-79.8,"l306d04":-80.0,"l306d05":-80.2,"l306d06":-80.2},
      {"t":20.08,"e312":-79.7,"l303":-80.5,"l306d01":-80.5,"l306d02":-79.5,"l306d04":-78.6,"l306d05":-81.3,"l306d06":-79.95},
      {"t":20.25,"e312":-80.4,"l303":-79.6,"l306d01":-81.8,"l306d02":-79.7,"l306d04":-79.7,"l306d05":-79.8,"l306d06":-80.1},
      {"t":20.42,"e312":-81.3,"l303":-80.0,"l306d01":-80.2,"l306d02":-79.9,"l306d04":-80.4,"l306d05":-80.6,"l306d06":-80.0},
      {"t":20.58,"e312":-79.5,"l303":-80.8,"l306d01":-81.4,"l306d02":-79.6,"l306d04":-78.9,"l306d05":-81.5,"l306d06":-79.9},
      {"t":20.75,"e312":-80.9,"l303":-79.8,"l306d01":-79.9,"l306d02":-79.8,"l306d04":-79.2,"l306d05":-79.1,"l306d06":-80.15},
      {"t":20.92,"e312":-80.1,"l303":-80.3,"l306d01":-81.2,"l306d02":-79.5,"l306d04":-80.6,"l306d05":-80.4,"l306d06":-80.05},
      {"t":21.08,"e312":-79.2,"l303":-79.5,"l306d01":-80.6,"l306d02":-79.7,"l306d04":-78.8,"l306d05":-81.1,"l306d06":-79.95},
      {"t":21.25,"e312":-81.4,"l303":-80.7,"l306d01":-81.7,"l306d02":-80.0,"l306d04":-79.5,"l306d05":-79.7,"l306d06":-80.1},
      {"t":21.42,"e312":-80.6,"l303":-80.1,"l306d01":-80.0,"l306d02":-79.6,"l306d04":-80.1,"l306d05":-80.8,"l306d06":-80.2},
      {"t":21.58,"e312":-79.8,"l303":-79.7,"l306d01":-81.5,"l306d02":-79.8,"l306d04":-78.7,"l306d05":-81.4,"l306d06":-80.0},
      {"t":21.75,"e312":-81.2,"l303":-80.4,"l306d01":-80.3,"l306d02":-79.5,"l306d04":-79.9,"l306d05":-79.5,"l306d06":-79.9},
      {"t":21.92,"e312":-80.0,"l303":-80.0,"l306d01":-81.1,"l306d02":-79.7,"l306d04":-80.7,"l306d05":-80.3,"l306d06":-80.05},
      {"t":22.08,"e312":-79.4,"l303":-79.6,"l306d01":-80.8,"l306d02":-79.9,"l306d04":-78.8,"l306d05":-81.6,"l306d06":-80.15},
      {"t":22.25,"e312":-81.5,"l303":-80.6,"l306d01":-81.9,"l306d02":-79.6,"l306d04":-79.4,"l306d05":-79.9,"l306d06":-79.95},
      {"t":22.42,"e312":-80.3,"l303":-79.9,"l306d01":-80.1,"l306d02":-79.8,"l306d04":-80.3,"l306d05":-80.7,"l306d06":-80.1},
      {"t":22.58,"e312":-79.6,"l303":-80.2,"l306d01":-81.3,"l306d02":-79.5,"l306d04":-78.6,"l306d05":-81.0,"l306d06":-80.0},
      {"t":22.75,"e312":-81.0,"l303":-80.9,"l306d01":-80.5,"l306d02":-79.7,"l306d04":-79.7,"l306d05":-79.4,"l306d06":-79.9},
      {"t":22.92,"e312":-80.7,"l303":-79.5,"l306d01":-81.6,"l306d02":-79.9,"l306d04":-80.2,"l306d05":-80.5,"l306d06":-80.15},
      {"t":23.08,"e312":-79.1,"l303":-80.4,"l306d01":-79.8,"l306d02":-79.6,"l306d04":-78.9,"l306d05":-81.8,"l306d06":-80.05},
      {"t":23.25,"e312":-81.3,"l303":-79.8,"l306d01":-81.2,"l306d02":-79.8,"l306d04":-79.0,"l306d05":-79.6,"l306d06":-79.95},
      {"t":23.42,"e312":-80.5,"l303":-80.1,"l306d01":-80.4,"l306d02":-79.5,"l306d04":-80.5,"l306d05":-80.2,"l306d06":-80.15},
      {"t":23.58,"e312":-79.9,"l303":-80.7,"l306d01":-81.7,"l306d02":-79.7,"l306d04":-78.7,"l306d05":-81.3,"l306d06":-80.05},
      {"t":23.75,"e312":-81.6,"l303":-79.7,"l306d01":-80.2,"l306d02":-79.9,"l306d04":-79.6,"l306d05":-79.8,"l306d06":-80.2},
      {"t":23.92,"e312":-80.2,"l303":-80.3,"l306d01":-81.4,"l306d02":-79.6,"l306d04":-80.1,"l306d05":-80.9,"l306d06":-80.0},
      {"t":0,"l309":-80.6},
      {"t":0.26,"l309":-79.1},
      {"t":0.51,"l309":-81.4},
      {"t":1.04,"l309":-81.37},
      {"t":1.24,"l309":-79.33},
      {"t":1.33,"l309":-79.82},
      {"t":1.9,"l309":-79.46},
      {"t":2.19,"l309":-80.98},
      {"t":2.6,"l309":-80.28},
      {"t":2.65,"l309":-80.78},
      {"t":3.1,"l309":-80.22},
      {"t":3.72,"l309":-81.17},
      {"t":4.11,"l309":-79.33},
      {"t":4.35,"l309":-81.14},
      {"t":4.79,"l309":-80.45},
      {"t":4.9,"l309":-81.54},
      {"t":5.03,"l309":-80.25},
      {"t":5.52,"l309":-81.54},
      {"t":5.59,"l309":-79.89},
      {"t":6.93,"l309":-80.45},
      {"t":7.2,"l309":-80.1},
      {"t":7.45,"l309":-80.1},
      {"t":7.6,"l309":-81.0},
      {"t":7.9,"l309":-79.6},
      {"t":8.3,"l309":-81.5},
      {"t":8.55,"l309":-79.0},
      {"t":8.8,"l309":-80.6},
      {"t":9.1,"l309":-81.3},
      {"t":9.4,"l309":-80.3},
      {"t":9.75,"l309":-79.5},
      {"t":10.0,"l309":-79.4},
      {"t":10.25,"l309":-79.9},
      {"t":10.5,"l309":-80.2},
      {"t":10.85,"l309":-80.2},
      {"t":11.1,"l309":-80.2},
      {"t":11.3,"l309":-81.0},
      {"t":11.6,"l309":-79.23},
      {"t":11.85,"l309":-81.4},
      {"t":12.21,"l309":-78.93},
      {"t":12.28,"l309":-79.92},
      {"t":13.16,"l309":-80.15},
      {"t":13.58,"l309":-81.3},
      {"t":13.74,"l309":-79.1},
      {"t":14.13,"l309":-81.7},
      {"t":14.28,"l309":-78.7},
      {"t":14.72,"l309":-81.7},
      {"t":14.86,"l309":-79.13},
      {"t":15.2,"l309":-81.27},
      {"t":15.45,"l309":-79.13},
      {"t":15.74,"l309":-81.57},
      {"t":15.93,"l309":-79.0},
      {"t":16.27,"l309":-81.44},
      {"t":16.4,"l309":-80.7},
      {"t":16.86,"l309":-81.9},
      {"t":16.98,"l309":-79.33},
      {"t":17.2,"l309":-79.4},
      {"t":17.9,"l309":-79.65},
      {"t":18.25,"l309":-78.7},
      {"t":18.5,"l309":-80.2},
      {"t":18.75,"l309":-79.56},
      {"t":19.0,"l309":-81.67},
      {"t":19.19,"l309":-79.33},
      {"t":19.32,"l309":-79.46},
      {"t":19.58,"l309":-81.04},
      {"t":19.8,"l309":-79.3},
      {"t":20.07,"l309":-81.7},
      {"t":20.39,"l309":-79.36},
      {"t":20.65,"l309":-81.57},
      {"t":20.9,"l309":-79.0},
      {"t":21.17,"l309":-81.37},
      {"t":21.33,"l309":-79.26},
      {"t":21.58,"l309":-80.78},
      {"t":21.69,"l309":-79.26},
      {"t":21.97,"l309":-78.4},
      {"t":22.26,"l309":-81.17},
      {"t":22.45,"l309":-79.2},
      {"t":22.8,"l309":-81.37},
      {"t":23.23,"l309":-80.55},
      {"t":23.33,"l309":-81.08},
      {"t":23.57,"l309":-78.93},
      {"t":23.91,"l309":-81.9},
      {"t":24,"l309":-81.2}
    ]
  },
  "transform": [
    {"fold": ["e312", "l303", "l306d01", "l306d02", "l306d04", "l306d05", "l306d06", "l309"], "as": ["sensor", "temp"]},
    {"filter": "isValid(datum.temp)"}
  ],
  "layer": [
    {
      "mark": {"type": "line", "clip": true},
      "encoding": {
        "x": {
          "field": "t",
          "type": "quantitative",
          "scale": {"domain": [0, 24], "nice": false, "zero": false},
          "axis": {
            "orient": "bottom",
            "title": "time (hr)",
            "values": [0,1,2,3,4,5,6,7,8,9,10,11,12,13,14,15,16,17,18,19,20,21,22,23,24],
            "labelExpr": "datum.value == 24 ? '00' : (datum.value < 10 ? '0' + datum.value : '' + datum.value)",
            "grid": true,
            "tickSize": -9,
            "labelPadding": 21,
            "labelFlush": false,
            "labelOverlap": false,
            "titlePadding": 22
          }
        },
        "y": {
          "field": "temp",
          "type": "quantitative",
          "scale": {"domain": [-85, -74], "nice": false, "zero": false},
          "axis": {
            "orient": "left",
            "title": ["temperature", "(deg C)"],
            "values": [-85,-84,-83,-82,-81,-80,-79,-78,-77,-76,-75,-74],
            "labelExpr": "'-' + format(-datum.value, '.1f')",
            "grid": true,
            "tickSize": -9,
            "labelPadding": 17,
            "labelOverlap": false,
            "titlePadding": 10,
            "titleLineHeight": 20
          }
        },
        "strokeWidth": {
          "condition": {"test": "datum.sensor == 'l306d06'", "value": 2.5},
          "value": 1.8
        },
        "color": {
          "field": "sensor",
          "type": "nominal",
          "scale": {
            "domain": ["e312", "l306d01", "l306d04", "l306d06", "l303", "l306d02", "l306d05", "l309"],
            "range": ["#9400d3", "#56b4e9", "#0072b2", "#000000", "#009e73", "#e69f00", "#e51e10", "#f0e442"]
          },
          "legend": {
            "title": null,
            "orient": "none",
            "legendX": 99,
            "legendY": 632,
            "direction": "horizontal",
            "columns": 4,
            "symbolType": "M-4,0H4",
            "symbolSize": 121,
            "symbolStrokeWidth": 2,
            "labelAlign": "right",
            "labelOffset": -36.5,
            "symbolOffset": 82.5,
            "labelFontSize": 14,
            "labelColor": "black",
            "columnPadding": 10,
            "rowPadding": 5
          }
        }
      }
    },
    {
      "mark": {"type": "point", "opacity": 0},
      "transform": [{"filter": "datum.sensor == 'l309'"}],
      "encoding": {
        "x": {"field": "t", "type": "quantitative", "axis": {"orient": "top", "title": null, "labels": false, "grid": false, "domain": false, "tickSize": -9, "values": [0,1,2,3,4,5,6,7,8,9,10,11,12,13,14,15,16,17,18,19,20,21,22,23,24]}},
        "y": {"field": "temp", "type": "quantitative", "axis": {"orient": "right", "title": null, "labels": false, "grid": false, "domain": false, "tickSize": -9, "values": [-85,-84,-83,-82,-81,-80,-79,-78,-77,-76,-75,-74]}}
      }
    },
    {
      "mark": {"type": "point", "opacity": 0},
      "transform": [{"filter": "datum.sensor == 'l309'"}],
      "encoding": {
        "x": {"field": "t", "type": "quantitative", "axis": {"orient": "bottom", "title": null, "labels": false, "grid": false, "domain": false, "tickSize": -4, "values": [0.5,1.5,2.5,3.5,4.5,5.5,6.5,7.5,8.5,9.5,10.5,11.5,12.5,13.5,14.5,15.5,16.5,17.5,18.5,19.5,20.5,21.5,22.5,23.5]}},
        "y": {"field": "temp", "type": "quantitative", "axis": {"orient": "left", "title": null, "labels": false, "grid": false, "domain": false, "tickSize": -4, "values": [-84.5,-83.5,-82.5,-81.5,-80.5,-79.5,-78.5,-77.5,-76.5,-75.5,-74.5]}}
      }
    },
    {
      "mark": {"type": "point", "opacity": 0},
      "transform": [{"filter": "datum.sensor == 'l309'"}],
      "encoding": {
        "x": {"field": "t", "type": "quantitative", "axis": {"orient": "top", "title": null, "labels": false, "grid": false, "domain": false, "tickSize": -4, "values": [0.5,1.5,2.5,3.5,4.5,5.5,6.5,7.5,8.5,9.5,10.5,11.5,12.5,13.5,14.5,15.5,16.5,17.5,18.5,19.5,20.5,21.5,22.5,23.5]}},
        "y": {"field": "temp", "type": "quantitative", "axis": {"orient": "right", "title": null, "labels": false, "grid": false, "domain": false, "tickSize": -4, "values": [-84.5,-83.5,-82.5,-81.5,-80.5,-79.5,-78.5,-77.5,-76.5,-75.5,-74.5]}}
      }
    }
  ],
  "resolve": {"axis": {"x": "independent", "y": "independent"}},
  "config": {
    "font": "Noto Sans",
    "view": {"stroke": "black", "strokeWidth": 1},
    "axis": {
      "domain": false,
      "gridColor": "#bebebe",
      "gridWidth": 1,
      "gridOpacity": 1,
      "tickColor": "black",
      "tickWidth": 1,
      "labelFontSize": 14,
      "labelColor": "black",
      "titleFontSize": 14,
      "titleFontWeight": "normal",
      "titleColor": "black"
    }
  }
}
